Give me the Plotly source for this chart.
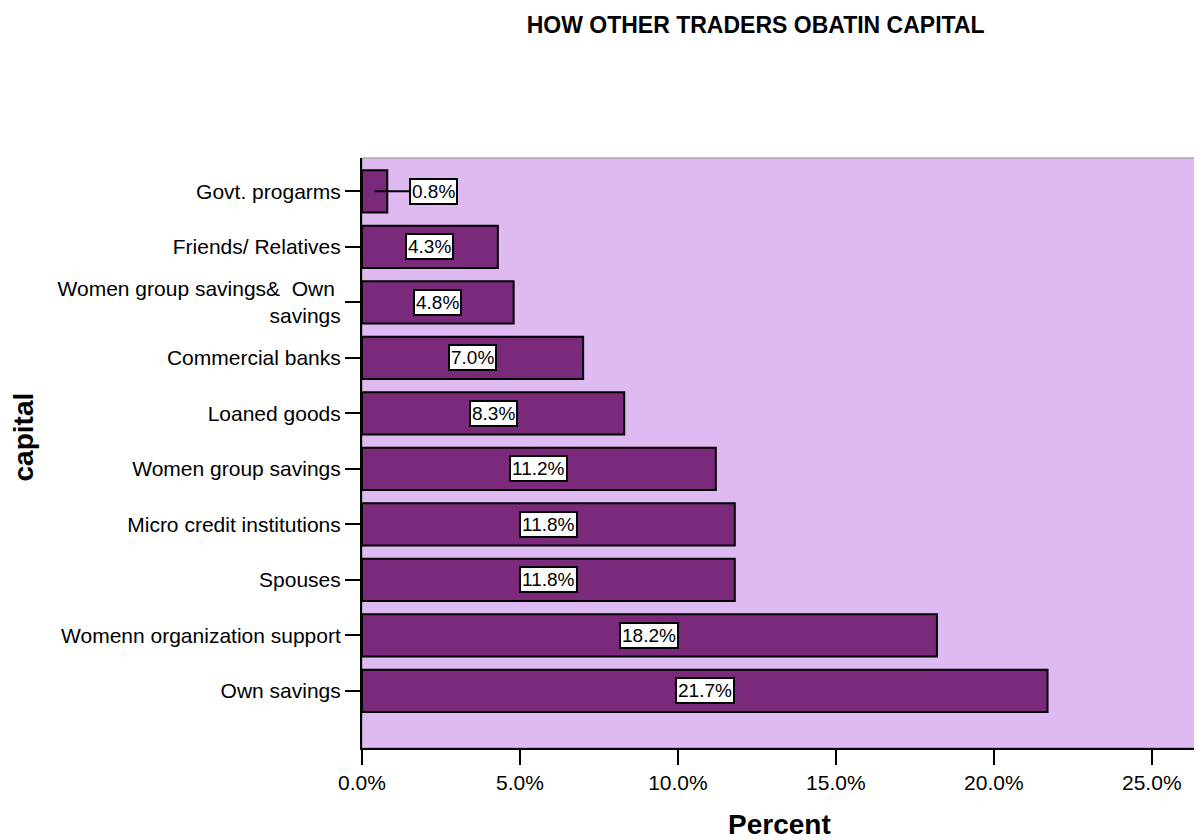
import plotly.graph_objects as go

# Данные: источники капитала (снизу вверх) и доли в процентах
categories = [
    "Own savings",
    "Womenn organization support",
    "Spouses",
    "Micro credit institutions",
    "Women group savings",
    "Loaned goods",
    "Commercial banks",
    "Women group savings&  Own <br>savings",
    "Friends/ Relatives",
    "Govt. progarms",
]
percent = [21.7, 18.2, 11.8, 11.8, 11.2, 8.3, 7.0, 4.8, 4.3, 0.8]
tick_values = [0, 5, 10, 15, 20, 25]
tick_labels = ["0.0%", "5.0%", "10.0%", "15.0%", "20.0%", "25.0%"]

BAR = "#7B2A7B"
BG = "#DEB9F2"
FONT = "Liberation Sans, Arial, sans-serif"

fig = go.Figure()

fig.add_trace(
    go.Bar(
        x=percent,
        y=list(range(len(categories))),
        orientation="h",
        width=0.76,
        marker=dict(color=BAR, line=dict(color="black", width=2)),
        hoverinfo="x",
    )
)

# Подписи значений в белых рамках
for i, v in enumerate(percent):
    label = f"{v:.1f}%"
    if v < 2:
        # маленький столбец: подпись вынесена вправо с выноской
        fig.add_annotation(
            x=v / 2, y=i, xref="x", yref="y",
            ax=2.26, ay=i, axref="x", ayref="y",
            text=label, showarrow=True, arrowhead=0, arrowwidth=2,
            arrowcolor="black", standoff=0,
            bgcolor="white", bordercolor="black", borderwidth=2, borderpad=1,
            font=dict(family=FONT, size=19, color="black"),
        )
    else:
        fig.add_annotation(
            x=v / 2, y=i, xref="x", yref="y",
            text=label, showarrow=False,
            bgcolor="white", bordercolor="black", borderwidth=2, borderpad=1,
            font=dict(family=FONT, size=19, color="black"),
        )

fig.update_layout(
    width=1202,
    height=840,
    paper_bgcolor="white",
    plot_bgcolor=BG,
    showlegend=False,
    margin=dict(l=354, r=14, t=150, b=100),
    font=dict(family=FONT, size=21, color="black"),
    title=dict(
        text="<b>HOW OTHER TRADERS OBATIN CAPITAL</b>",
        x=0.622, xanchor="center", y=0.99, yanchor="top",
        font=dict(family=FONT, size=23, color="black"),
    ),
)

fig.update_xaxes(
    range=[0, 26.4],
    tickvals=tick_values,
    ticktext=tick_labels,
    ticks="outside", ticklen=15, tickwidth=2, tickcolor="black",
    showline=True, linecolor="black", linewidth=2,
    showgrid=False, zeroline=False,
    tickfont=dict(size=21),
)

fig.update_yaxes(
    range=[-1.03, 9.6],
    tickvals=list(range(len(categories))),
    ticktext=categories,
    ticks="outside", ticklen=15, tickwidth=2, tickcolor="black",
    showline=True, linecolor="black", linewidth=2,
    showgrid=False, zeroline=False,
    tickfont=dict(size=21),
)

# Заголовки осей
fig.add_annotation(
    x=-0.406, y=0.527, xref="paper", yref="paper",
    text="<b>capital</b>", textangle=-90, showarrow=False,
    xanchor="center", yanchor="middle",
    font=dict(family=FONT, size=28, color="black"),
)
fig.add_annotation(
    x=0.5, y=-0.13, xref="paper", yref="paper",
    text="<b>Percent</b>", showarrow=False,
    xanchor="center", yanchor="middle",
    font=dict(family=FONT, size=28, color="black"),
)

# Тонкая серая рамка вокруг области построения
fig.add_shape(
    type="rect", xref="paper", yref="paper", x0=0, y0=0, x1=1, y1=1,
    line=dict(color="#888888", width=1), layer="below",
)

fig.write_html("out.html")
